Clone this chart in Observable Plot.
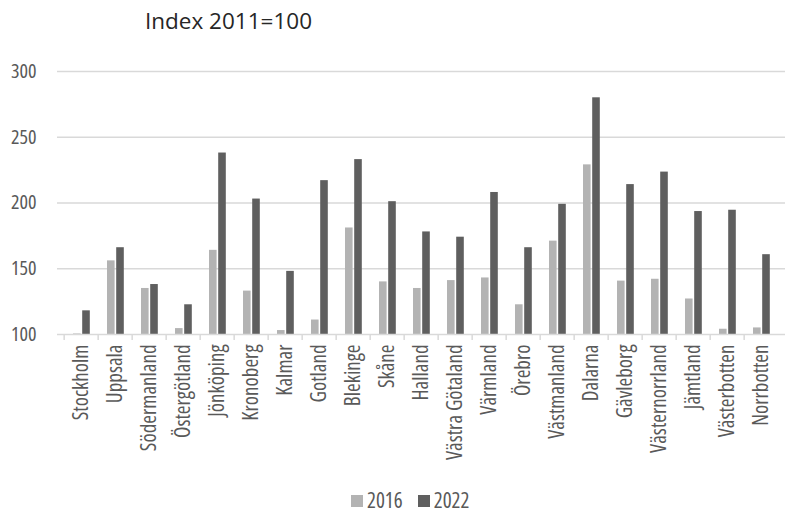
<!DOCTYPE html>
<html><head><meta charset="utf-8">
<script src="https://cdn.jsdelivr.net/npm/d3@7"></script>
<script src="https://cdn.jsdelivr.net/npm/@observablehq/plot@0.6"></script>
<style>
body{margin:0;background:#fff;}
#wrap{position:relative;width:785px;height:515px;font-family:"Open Sans",sans-serif;}
#title{position:absolute;left:145px;top:10px;font-family:"Open Sans",sans-serif;font-size:22.5px;line-height:1;color:#262626;white-space:nowrap;}
#chart{position:absolute;left:0;top:0;}
#chart svg text{font-stretch:75%;}
#legend{position:absolute;top:490px;left:351px;line-height:1;font-stretch:75%;}
#legend .lg-swatches{min-height:0 !important;margin:0 !important;line-height:1;}
#legend .lg-swatch{margin-right:15px !important;line-height:1;}
#legend .lg-swatch > svg{margin-right:4px !important;}
</style></head><body>
<div id="wrap"><div id="chart"></div><div id="title">Index 2011=100</div><div id="legend"></div></div>
<script>
const counties = ["Stockholm","Uppsala","Södermanland","Östergötland","Jönköping","Kronoberg","Kalmar","Gotland","Blekinge","Skåne","Halland","Västra Götaland","Värmland","Örebro","Västmanland","Dalarna","Gävleborg","Västernorrland","Jämtland","Västerbotten","Norrbotten"];
const values2016 = [100.4,156,135,104.5,164,133,103,111,181,140,135,141,143,122.6,171,229,140.6,142,127,104,105];
const values2022 = [118,166,138,122.6,238,203,148,217,233,201,178,174,208,166,199,280,214,223.5,193.5,194.5,160.7];
const years = ["2016","2022"];
const yTicks = [100,150,200,250,300];
const baseValue = 100;

const colors = ["#b3b3b3","#5f5f5f"];
const fontStack = '"Open Sans",sans-serif';
const W = 785, H = 470, mL = 57, mR = 0, mT = 71, mB = 136;
const bw = (W - mL - mR) / counties.length;

const rows16 = counties.map((c,i)=>({county:c, year:years[0], value:values2016[i]}));
const rows22 = counties.map((c,i)=>({county:c, year:years[1], value:values2022[i]}));

const chart = Plot.plot({
  width: W, height: H,
  marginLeft: mL, marginRight: mR, marginTop: mT, marginBottom: mB,
  style: {fontFamily: fontStack, color: "#595959", background: "#fff", overflow: "visible"},
  x: {domain: counties, padding: 0},
  y: {domain: [yTicks[0], yTicks[yTicks.length-1]]},
  color: {domain: years, range: colors},
  marks: [
    Plot.gridY(yTicks.slice(1), {stroke: "#d9d9d9", strokeOpacity: 1, strokeWidth: 1.5}),
    Plot.barY(rows16, {x: "county", y1: baseValue, y2: "value", fill: "year", insetLeft: 9, insetRight: 17.4}),
    Plot.barY(rows22, {x: "county", y1: baseValue, y2: "value", fill: "year", insetLeft: 18.2, insetRight: 8.2}),
    Plot.ruleY([baseValue], {stroke: "#d9d9d9", strokeWidth: 1.5}),
    Plot.tickX(counties, {x: d => d, dx: -bw/2, stroke: "#d9d9d9", strokeWidth: 1.5, insetTop: H - mT - mB, insetBottom: -6}),
    Plot.axisY(yTicks, {tickSize: 0, tickPadding: 21, fontSize: 20, label: null}),
    Plot.axisX({tickSize: 0, tickPadding: 10, tickRotate: -90, fontSize: 21, label: null})
  ]
});
document.getElementById("chart").appendChild(chart);

const legend = Plot.legend({
  color: {domain: years, range: colors},
  swatchSize: 12,
  className: "lg",
  style: {fontSize: "21px", fontFamily: fontStack, color: "#595959", margin: 0, minHeight: 0, lineHeight: 1}
});
document.getElementById("legend").appendChild(legend);
</script>
</body></html>
